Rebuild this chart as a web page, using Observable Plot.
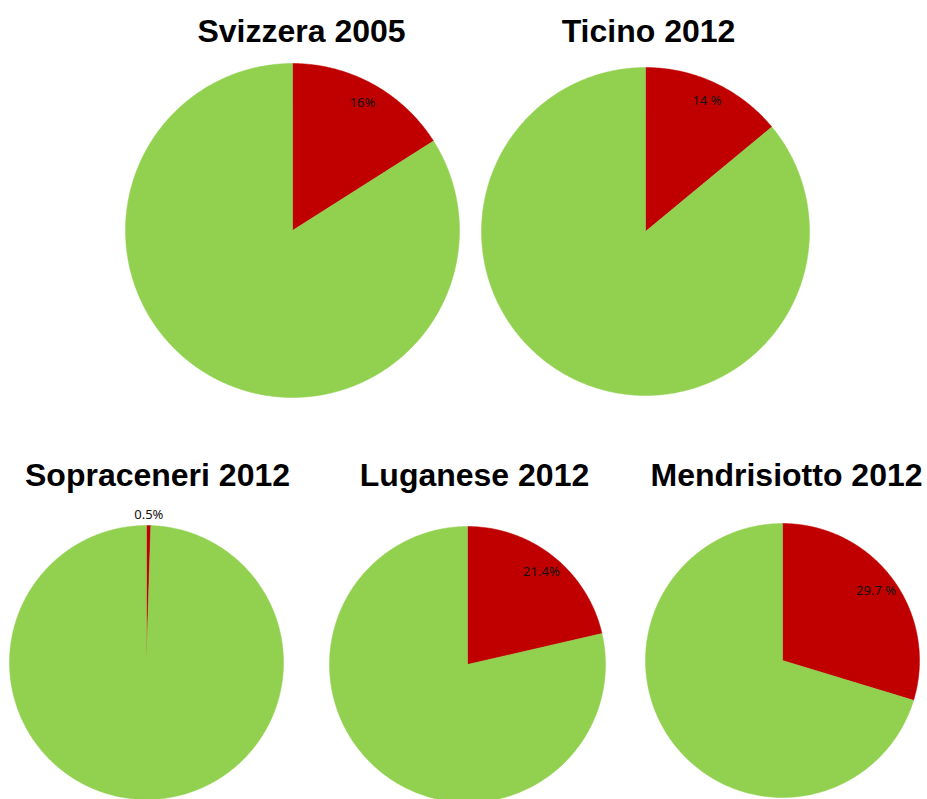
<!DOCTYPE html>
<html>
<head>
<meta charset="utf-8">
<script src="https://cdn.jsdelivr.net/npm/d3@7"></script>
<script src="https://cdn.jsdelivr.net/npm/@observablehq/plot@0.6"></script>
<style>
  html, body { margin: 0; padding: 0; background: #fff; }
  #chart svg { display: block; }
</style>
</head>
<body>
<div id="chart"></div>
<script>
// ---- data ----
const regions = ["Svizzera 2005", "Ticino 2012", "Sopraceneri 2012", "Luganese 2012", "Mendrisiotto 2012"];
const shares = [16, 14, 0.5, 21.4, 29.7];           // red share (%)
const shareLabels = ["16%", "14 %", "0.5%", "21.4%", "29.7 %"];

// ---- layout (pixels) ----
const W = 927, H = 799;
const layout = [
  {cx: 292, cy: 230, r: 167, tx: 301, ty: 41, lr: 0.87},
  {cx: 645, cy: 231, r: 164, tx: 648, ty: 41, lr: 0.88},
  {cx: 146, cy: 662, r: 137, tx: 157, ty: 485, lr: 1.08},
  {cx: 467, cy: 664, r: 138, tx: 474, ty: 485, lr: 0.86},
  {cx: 782, cy: 660, r: 137, tx: 786, ty: 485, lr: 0.85}
];
const RED = "#C00000", GREEN = "#92D050";

// build slice polygons from the data
const slices = [];
const labels = [];
const titles = [];
regions.forEach((name, i) => {
  const L = layout[i];
  const a1 = shares[i] / 100 * 2 * Math.PI;
  const parts = [
    {key: name + "-red", fill: RED, from: 0, to: a1},
    {key: name + "-green", fill: GREEN, from: a1, to: 2 * Math.PI}
  ];
  for (const p of parts) {
    const n = Math.max(2, Math.ceil((p.to - p.from) / (Math.PI / 360)));
    slices.push({key: p.key, fill: p.fill, x: L.cx, y: L.cy});
    for (let k = 0; k <= n; k++) {
      const t = p.from + (p.to - p.from) * k / n;
      slices.push({key: p.key, fill: p.fill, x: L.cx + L.r * Math.sin(t), y: L.cy - L.r * Math.cos(t)});
    }
    slices.push({key: p.key, fill: p.fill, x: L.cx, y: L.cy});
  }
  const mid = a1 / 2;
  labels.push({text: shareLabels[i], x: L.cx + L.lr * L.r * Math.sin(mid), y: L.cy - L.lr * L.r * Math.cos(mid)});
  titles.push({text: name, x: L.tx, y: L.ty});
});

const chart = Plot.plot({
  width: W,
  height: H,
  margin: 0,
  x: {domain: [0, W], range: [0, W], axis: null},
  y: {domain: [0, H], range: [0, H], axis: null},
  marks: [
    Plot.line(slices, {x: "x", y: "y", z: "key", fill: "fill", stroke: "fill", strokeWidth: 0.5, curve: "linear"}),
    Plot.text(labels, {x: "x", y: "y", text: "text", fontSize: 13, fontFamily: "Noto Sans", fill: "#111", textAnchor: "middle", lineAnchor: "middle"}),
    Plot.text(titles, {x: "x", y: "y", text: "text", fontSize: 32, fontWeight: "bold", fontFamily: "Liberation Sans", fill: "#000", textAnchor: "middle", lineAnchor: "bottom"})
  ]
});
document.getElementById("chart").appendChild(chart);
</script>
</body>
</html>
